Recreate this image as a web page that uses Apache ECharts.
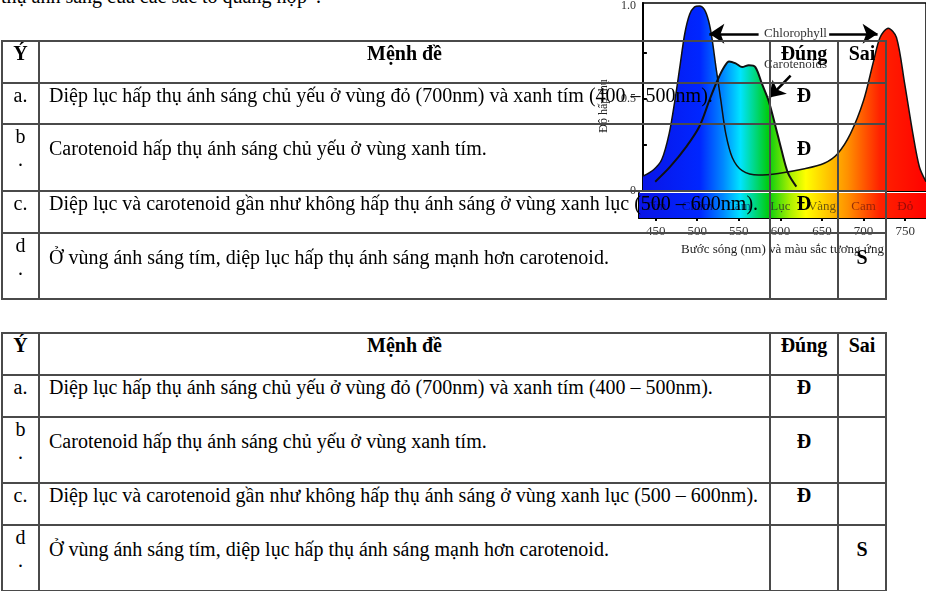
<!DOCTYPE html>
<html>
<head>
<meta charset="utf-8">
<script src="https://cdn.jsdelivr.net/npm/echarts@6/dist/echarts.min.js"></script>
<style>
html,body{margin:0;padding:0;background:#fff;width:926px;height:591px;overflow:hidden;}
body{position:relative;font-family:"Liberation Serif","Times New Roman",serif;color:#000;}
#chart{position:absolute;left:590px;top:0;width:336px;height:262px;z-index:1;}
.intro{position:absolute;left:1px;top:-14px;font-size:20px;line-height:20px;white-space:nowrap;z-index:2;}
table.t{position:absolute;left:1px;width:884px;border-collapse:collapse;table-layout:fixed;z-index:2;font-family:"Liberation Serif",serif;font-size:20px;}
table.t td{border:2px solid #4a4a4a;padding:0;vertical-align:top;line-height:23px;background:transparent;overflow:visible;}
table.t td.k{text-align:center;}
table.t td.s{padding-left:9px;white-space:nowrap;}
table.t td.a{text-align:center;font-weight:bold;}
table.t tr.two td.s, table.t tr.two td.a{padding-top:12px;}
table.t tr.h td{font-weight:bold;text-align:center;}
</style>
</head>
<body>
<div id="chart"></div>
<div class="intro">thụ ánh sáng của các sắc tố quang hợp”.</div>
<div id="tables"></div>
<script>
// phổ hấp thụ
var chlNm  = [430, 443, 453, 462, 469, 475, 481, 487, 493, 499, 505, 510, 514, 519, 525, 531, 539, 551, 571, 595, 627, 651, 667, 683, 699, 711, 719, 729, 739, 749, 759, 767, 775];
var chlAbs = [0.08, 0.115, 0.17, 0.31, 0.49, 0.67, 0.85, 0.955, 0.995, 1.0, 0.98, 0.92, 0.83, 0.67, 0.49, 0.31, 0.18, 0.11, 0.086, 0.095, 0.12, 0.15, 0.20, 0.31, 0.49, 0.70, 0.83, 0.88, 0.83, 0.58, 0.31, 0.13, 0.05];
var carNm  = [445, 463, 483, 499, 511, 521, 529, 535, 543, 551, 559, 567, 575, 583, 591, 599, 607, 617];
var carAbs = [0.05, 0.13, 0.24, 0.35, 0.49, 0.60, 0.67, 0.70, 0.69, 0.67, 0.68, 0.67, 0.58, 0.49, 0.36, 0.22, 0.095, 0.024];
var nmRange = [430, 775];
var nmTicks = [450, 500, 550, 600, 650, 700, 750];
var absTicks = [0.25, 0.5, 0.75];
var absLabels = [0, 0.5, 1];
var bandNames = ['Tím', 'Chàm', 'Lam', 'Lục', 'Vàng', 'Cam', 'Đỏ'];
var bandCenters = [450, 500, 550, 600, 650, 700, 750];
var chlArrows = [[571, 511], [657, 716]];
var arrowAbs = 0.85;
var carArrow = [[610, 0.624], [584, 0.505]];
var notes = [{text: 'Chlorophyll', nm: 616, abs: 0.85}, {text: 'Carotenoids', nm: 616, abs: 0.683}];

// bảng
var headers = ['Ý', 'Mệnh đề', 'Đúng', 'Sai'];
var keys = ['a.', 'b<br>.', 'c.', 'd<br>.'];
var statements = [
  'Diệp lục hấp thụ ánh sáng chủ yếu ở vùng đỏ (700nm) và xanh tím (400 – 500nm).',
  'Carotenoid hấp thụ ánh sáng chủ yếu ở vùng xanh tím.',
  'Diệp lục và carotenoid gần như không hấp thụ ánh sáng ở vùng xanh lục (500 – 600nm).',
  'Ở vùng ánh sáng tím, diệp lục hấp thụ ánh sáng mạnh hơn carotenoid.'
];
var answers = ['Đ', 'Đ', 'Đ', 'S'];

function makeTable(top, heights){
  var h = '<table class="t" style="top:' + top + 'px"><colgroup><col style="width:37px"><col style="width:731px"><col style="width:68px"><col style="width:48px"></colgroup>';
  h += '<tr class="h" style="height:' + heights[0] + 'px">';
  for (var i = 0; i < headers.length; i++) h += '<td>' + headers[i] + '</td>';
  h += '</tr>';
  for (var r = 0; r < statements.length; r++){
    var cls = keys[r].indexOf('<br>') >= 0 ? 'two' : '';
    h += '<tr class="' + cls + '" style="height:' + heights[r + 1] + 'px"><td class="k">' + keys[r] + '</td><td class="s">' + statements[r] + '</td>';
    h += '<td class="a">' + (answers[r] == 'Đ' ? 'Đ' : '') + '</td><td class="a">' + (answers[r] == 'S' ? 'S' : '') + '</td></tr>';
  }
  return h + '</table>';
}
document.getElementById('tables').innerHTML = makeTable(40, [42, 41, 67, 42, 66]) + makeTable(332, [42, 42, 66, 42, 66]);

function zip(a, b){ var o = []; for (var i = 0; i < a.length; i++) o.push([a[i], b[i]]); return o; }

var gLeft = 49, gRight = -3, W = 336;
function spectrum(){
  return new echarts.graphic.LinearGradient(gLeft, 0, W - gRight, 0, [
    {offset: 0, color: '#0a14e6'},
    {offset: 0.21, color: '#0026ff'},
    {offset: 0.29, color: '#0088ff'},
    {offset: 0.35, color: '#00e4ff'},
    {offset: 0.445, color: '#00cc10'},
    {offset: 0.52, color: '#a8f000'},
    {offset: 0.575, color: '#ffff00'},
    {offset: 0.72, color: '#ff9000'},
    {offset: 0.83, color: '#ff2200'},
    {offset: 1, color: '#ff0000'}
  ], true);
}
var serif = 'Liberation Serif';
var bandColors = ['#0a0a70', '#0a0a70', '#0a3070', '#2a2a2a', '#4a3a10', '#7a1a0a', '#7a0a0a'];

var chart = echarts.init(document.getElementById('chart'), null, {renderer: 'canvas'});
chart.setOption({
  animation: false,
  grid: [
    {left: gLeft, right: gRight, top: 2, height: 189, show: true, borderColor: '#000', borderWidth: 1.5},
    {left: gLeft, right: gRight, top: 193, height: 25}
  ],
  xAxis: [
    {type: 'value', gridIndex: 0, min: nmRange[0], max: nmRange[1],
     axisLine: {lineStyle: {color: '#000', width: 2}}, axisTick: {show: false}, axisLabel: {show: false}, splitLine: {show: false}},
    {type: 'value', gridIndex: 1, min: nmRange[0], max: nmRange[1],
     axisLine: {lineStyle: {color: '#000', width: 2}},
     axisTick: {customValues: nmTicks, length: 3, lineStyle: {color: '#000', width: 2}},
     axisLabel: {customValues: nmTicks, margin: 7, fontFamily: serif, fontSize: 13, color: '#333'},
     splitLine: {show: false},
     name: 'Bước sóng (nm) và màu sắc tương ứng', nameLocation: 'middle', nameGap: 25,
     nameTextStyle: {fontFamily: serif, fontSize: 13, color: '#222'}}
  ],
  yAxis: [
    {type: 'value', gridIndex: 0, min: 0, max: 1.016,
     axisLine: {show: true, lineStyle: {color: '#000', width: 2}},
     axisTick: {show: true, inside: true, length: 4, customValues: absTicks, lineStyle: {color: '#000', width: 2}},
     axisLabel: {customValues: absLabels, margin: 7, fontFamily: serif, fontSize: 12, color: '#333',
       formatter: function(v){ return v == 1 ? '1.0' : String(v); }},
     splitLine: {show: false},
     name: 'Độ hấp thụ', nameLocation: 'middle', nameGap: 30, nameRotate: 90,
     nameTextStyle: {fontFamily: serif, fontSize: 12, color: '#222', padding: [0, 0, 0, -18]}},
    {type: 'value', gridIndex: 1, min: 0, max: 1,
     axisLine: {show: true, lineStyle: {color: '#000', width: 2}}, axisTick: {show: false}, axisLabel: {show: false}, splitLine: {show: false}}
  ],
  series: [
    {type: 'line', name: 'chl-fill', data: zip(chlNm, chlAbs), smooth: 0.3, symbol: 'none', z: 1,
     lineStyle: {width: 0}, areaStyle: {color: spectrum(), opacity: 1}},
    {type: 'line', name: 'car-fill', data: zip(carNm, carAbs), smooth: 0.3, symbol: 'none', z: 1,
     lineStyle: {width: 0}, areaStyle: {color: spectrum(), opacity: 1}},
    {type: 'line', name: 'Chlorophyll', data: zip(chlNm, chlAbs), smooth: 0.3, symbol: 'none', z: 3,
     lineStyle: {color: '#111', width: 1.5},
     markLine: {silent: true, symbol: ['none', 'arrow'], symbolSize: 15, label: {show: false},
       lineStyle: {color: '#000', width: 2.5, type: 'solid'},
       data: chlArrows.map(function(a){ return [{coord: [a[0], arrowAbs]}, {coord: [a[1], arrowAbs]}]; })
         .concat([[{coord: carArrow[0]}, {coord: carArrow[1]}]])},
     markPoint: {silent: true, symbol: 'rect', symbolSize: 1, itemStyle: {color: 'rgba(0,0,0,0)'},
       label: {show: true, position: 'inside', fontFamily: serif, fontSize: 13, color: '#333',
         formatter: function(p){ return p.name; }},
       data: notes.map(function(n){ return {name: n.text, coord: [n.nm, n.abs]}; })}},
    {type: 'line', name: 'Carotenoids', data: zip(carNm, carAbs), smooth: 0.3, symbol: 'none', z: 3,
     lineStyle: {color: '#111', width: 2}},
    {type: 'line', name: 'band', xAxisIndex: 1, yAxisIndex: 1, data: [[nmRange[0], 1], [nmRange[1], 1]],
     symbol: 'none', lineStyle: {width: 0}, areaStyle: {color: spectrum(), opacity: 1}, z: 1},
    {type: 'scatter', name: 'band-labels', xAxisIndex: 1, yAxisIndex: 1, symbolSize: 0, z: 4,
     data: bandCenters.map(function(c, i){
       return {value: [c, 0.45], name: bandNames[i], label: {color: bandColors[i]}};
     }),
     label: {show: true, position: 'inside', fontFamily: serif, fontSize: 13, formatter: function(p){ return p.name; }}}
  ]
});
</script>
</body>
</html>
